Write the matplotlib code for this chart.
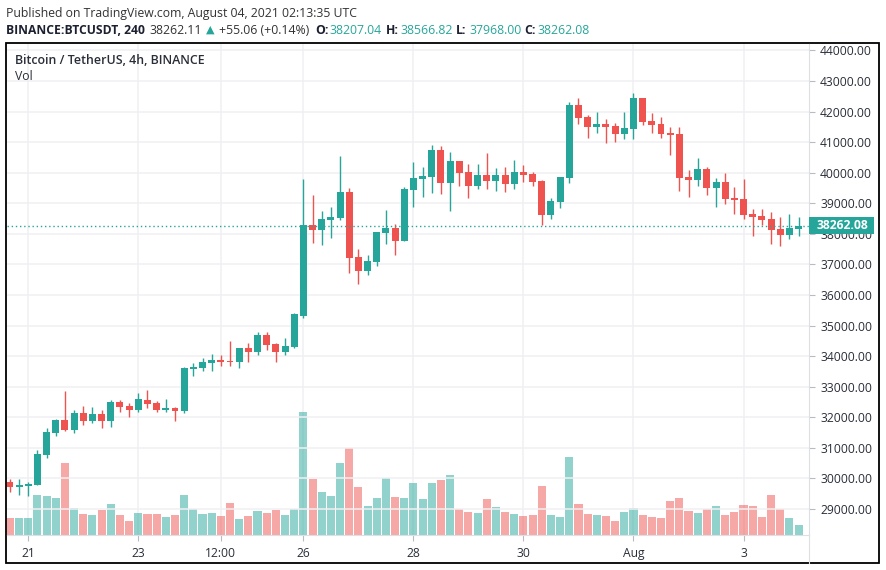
import matplotlib
matplotlib.use("Agg")
import matplotlib.pyplot as plt
from matplotlib.patches import Rectangle
from matplotlib.transforms import blended_transform_factory

plt.rcParams['font.family'] = ['Open Sans', 'DejaVu Sans']

# candles, 4h bars
opens = [29883,29720,29752,29785,30766,31486,31911,31584,32140,31878,32107,31878,32500,32369,32238,32565,32467,32238,32304,32206,
         33579,33612,33776,33874,33841,33808,34266,34135,34692,34397,34135,34299,35313,38290,38126,38453,38519,39369,37243,36785,
         37079,38028,38192,37766,39434,39794,39860,40743,39663,40383,40023,39565,39925,39729,39925,39631,40023,39958,39729,38617,
         39042,39827,42215,41823,41495,41594,41528,41266,41430,42444,41692,41594,41299,41266,39860,39762,40121,39500,39696,39173,
         39140,38650,38584,38486,38159,37963,38159]
closes = [29720,29785,29818,30799,31519,31911,31584,32140,31878,32107,31878,32500,32336,32238,32598,32435,32238,32304,32206,33612,
          33645,33808,33874,33808,33808,34266,34135,34692,34364,34135,34332,35378,38290,38126,38486,38551,39369,37210,36785,37112,
          38060,38192,37766,39467,39827,39892,40743,39663,40383,39990,39565,39925,39729,39925,39631,40023,39925,39696,38617,39075,
          39860,42215,41790,41495,41594,41495,41266,41463,42444,41659,41561,41266,41234,39827,39762,40121,39500,39696,39140,39108,
          38617,38551,38453,38126,37963,38192,38262]
highs = [29981,29981,29883,30930,31650,31944,32860,32238,32369,32336,32238,32565,32565,32467,32794,32892,32533,32598,32336,33645,
         33776,33939,34070,34037,34495,34266,34430,34790,34790,34430,34593,35411,39795,39271,38748,38879,40547,39500,37505,37308,
         38060,38780,38322,39533,40350,40187,40907,40874,40678,40383,40285,40285,40645,40154,40187,40416,40252,40023,39762,39173,
         39860,42313,42444,41888,41986,41757,41626,41986,42608,42444,41953,41823,41495,41495,40089,40482,40187,39827,39990,39533,
         39795,38813,38813,38715,38551,38650,38551]
lows = [29556,29458,29425,29785,30668,31388,31551,31486,31748,31813,31650,31682,32173,32009,32173,32304,32173,32173,31878,32140,
        33350,33514,33514,33678,33678,33612,33808,34037,34201,33808,34037,34266,35248,37701,37635,37864,38453,36720,36360,36654,
        36949,37668,37308,37766,38879,39205,39336,39304,38748,39565,39173,39467,39467,39402,39369,39467,39696,39565,38290,38486,
        38846,39663,41594,41135,41299,40972,41005,41103,41103,41561,41299,41135,40579,39402,39205,39565,39271,38879,38977,38650,
        38486,37930,38290,37668,37603,37832,37930]
# volume has no scale on the chart so this is just relative height
volumes = [17,17,17,40,39,37,72,27,21,20,25,31,20,14,22,21,21,18,20,40,
           26,21,22,19,32,16,19,24,22,25,20,26,123,56,43,39,72,87,48,29,
           37,57,38,37,52,36,52,55,60,26,23,22,36,28,23,21,19,20,49,20,
           18,78,31,21,20,19,14,23,27,20,18,17,34,37,24,22,26,29,20,23,
           30,29,18,40,26,17,10]

tick_bars = [2,14,23,32,44,56,68,80]
tick_labels = ["21","23","12:00","26","28","30","Aug","3"]
price_ticks = list(range(29000, 45000, 1000))
last_price = 38262.08

green = "#26a69a"
red = "#ef5350"
gridc = "#f0f0f2"
axisc = "#dcdfe3"
textc = "#2a2e39"

W, H = 886, 570
def px(x, y):
    return x / W, 1 - y / H

fig = plt.figure(figsize=(W / 100, H / 100), dpi=100, facecolor="white")

left, right, top, bottom = 7, 809, 44, 535
rect = [left / W, 1 - bottom / H, (right - left) / W, (bottom - top) / H]

# volume goes underneath on its own axes
axv = fig.add_axes(rect, zorder=1)
ax = fig.add_axes(rect, zorder=2)
ax.patch.set_alpha(0)

x = list(range(len(opens)))
colors = [green if c >= o else red for o, c in zip(opens, closes)]
xlim = (-0.32, 87.14)

axv.bar(x, volumes, width=0.88, color=colors, alpha=0.5, linewidth=0)
axv.set_xlim(xlim)
axv.set_ylim(0, bottom - top)
axv.set_xticks(tick_bars)
axv.set_xticklabels([])
axv.set_yticks([])
axv.tick_params(axis="x", length=0)
axv.grid(axis="x", color=gridc, linewidth=1.1)
axv.set_axisbelow(True)
for s in axv.spines.values():
    s.set_visible(False)

ax.vlines(x, lows, highs, colors=colors, linewidth=1.0)
ax.bar(x, [abs(c - o) for o, c in zip(opens, closes)], bottom=[min(o, c) for o, c in zip(opens, closes)],
       width=0.76, color=colors, linewidth=0)
ax.axhline(last_price, color=green, linewidth=1, linestyle=(0, (1, 2)))

ax.set_xlim(xlim)
ax.set_ylim(28149, 44210)
ax.yaxis.tick_right()
ax.set_yticks(price_ticks)
ax.set_yticklabels(["%.2f" % p for p in price_ticks])
ax.set_xticks(tick_bars)
ax.set_xticklabels(tick_labels)
ax.grid(axis="y", color=gridc, linewidth=1.1)
ax.set_axisbelow(True)
ax.tick_params(axis="y", length=4, width=0.8, color="#b8bbc2", labelsize=8.7, labelcolor=textc, pad=4)
ax.tick_params(axis="x", length=4, width=0.8, color="#b8bbc2", labelsize=8.7, labelcolor=textc, pad=4.5)
for s in ["top", "left"]:
    ax.spines[s].set_visible(False)
ax.spines["right"].set_color(axisc)
ax.spines["bottom"].set_color(axisc)

# last price tag on the scale, 65px wide and 17px high
trans = blended_transform_factory(ax.transAxes, ax.transData)
tag_h = 17 / (bottom - top) * (44210 - 28149)
ax.add_patch(Rectangle((1.0, last_price - tag_h / 2), 65 / (right - left), tag_h, transform=trans,
                       facecolor=green, edgecolor="none", clip_on=False, zorder=9))
ax.text(1.0 + 33 / (right - left), last_price, "%.2f" % last_price, transform=trans, ha="center", va="center",
        color="white", fontsize=8.7, fontweight="bold", clip_on=False, zorder=10)

# outer frame and the part of the scale line under the axis
fig.add_artist(Rectangle(px(6, 563), 873 / W, 520 / H, transform=fig.transFigure, fill=False, edgecolor="black", linewidth=1.3))
fig.add_artist(plt.Line2D([right / W, right / W], [1 - bottom / H, 1 - 563 / H], color=axisc, linewidth=0.8))

def label(xp, yp, s, **kw):
    kw.setdefault("color", "#1c2030")
    kw.setdefault("fontsize", 8.8)
    fig.text(*px(xp, yp), s, va="center", ha="left", **kw)

label(6, 13, "Published on TradingView.com, August 04, 2021 02:13:35 UTC", color="#333333")
label(6, 30, "BINANCE:BTCUSDT, 240", fontweight="bold", fontsize=8.7)
label(149, 30, "38262.11", color="#333333")
label(206, 30, "\u25b2", color=green, fontsize=8)
label(219, 30, "+55.06 (+0.14%)", color="#333333")
for xl, xv, name, val in [(315, 329, "O:", "38207.04"), (386, 400, "H:", "38566.82"),
                          (456, 469, "L:", "37968.00"), (524, 537, "C:", "38262.08")]:
    label(xl, 30, name, fontweight="bold")
    label(xv, 30, val, color=green)

label(15, 61, "Bitcoin / TetherUS, 4h, BINANCE", fontweight="semibold", color=textc, fontsize=8.9)
label(15, 77, "Vol", color=textc)

fig.savefig("out.png", dpi=100)
